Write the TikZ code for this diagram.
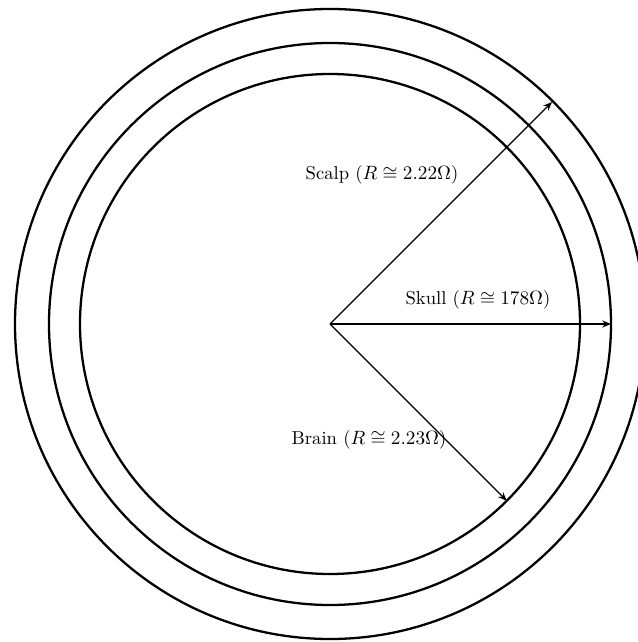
\documentclass[tikz,border=0pt]{standalone}
\usetikzlibrary{arrows.meta}
\begin{document}
\begin{tikzpicture}[>={Stealth[length=5pt,width=4pt]},x=0.02cm,y=0.02cm,
	lbl/.style={font=\fontsize{10.6}{12}\selectfont}]
	\useasboundingbox (-330,-318) rectangle (308,324);
	\clip (-330,-318) rectangle (308,324);
	\coordinate (O) at (0,0);
	\foreach \r in {250,281,315}
	\draw[line width=1.3pt] (O) circle (\r);
	\coordinate (scalp) at (45:314);
	\coordinate (skull) at (0:281);
	\coordinate (brain) at (-45:250);
	\draw[->,line width=0.8pt] (O) -- (scalp);
	\draw[->,line width=0.8pt] (O) -- (skull);
	\draw[->,line width=0.8pt] (O) -- (brain);
	\node[lbl] (scalplbl) at (52,149) {Scalp ($R\cong 2.22\Omega$)};
	\node[lbl] (skulllbl) at (148,24) {Skull ($R\cong 178\Omega$)};
	\node[lbl] (brainlbl) at (39,-115.5) {Brain ($R\cong 2.23\Omega$)};
\end{tikzpicture}
\end{document}
